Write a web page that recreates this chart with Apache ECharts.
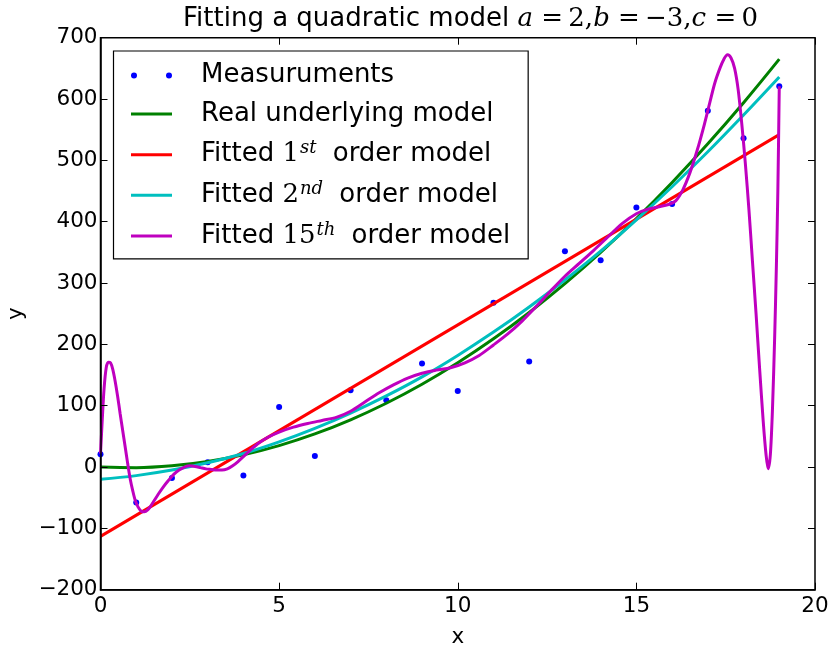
<!DOCTYPE html>
<html>
<head>
<meta charset="utf-8">
<script src="https://cdn.jsdelivr.net/npm/echarts@6/dist/echarts.min.js"></script>
<style>
  html, body { margin: 0; padding: 0; background: #fff; }
  #chart { width: 832px; height: 647px; }
</style>
</head>
<body>
<div id="chart"></div>
<script>
// Measured samples at x = 0 .. 19
const sampleX = [0, 1, 2, 3, 4, 5, 6, 7, 8, 9, 10, 11, 12, 13, 14, 15, 16, 17, 18, 19];
const measurements = [21, -58, -18, 8, -14, 98, 18, 125, 109, 169, 124, 268, 172, 352, 337, 423, 429, 581, 536, 621];

// Underlying quadratic model, sampled at the same x positions
const realModel = [0, -1, 2, 9, 20, 35, 54, 77, 104, 135, 170, 209, 252, 299, 350, 405, 464, 527, 594, 665];

// First order fit: end points of the straight line
const fit1X = [0, 19];
const fit1Y = [-113, 542];

// Second order fit
const fit2Y = [-20, -14, -5, 7, 22, 41, 63, 88, 116, 147, 182, 220, 261, 305, 352, 403, 457, 514, 574, 636];

// 15th order fit (dense samples where the curve oscillates near the ends)
const fit15X = [0.00, 0.05, 0.10, 0.16, 0.22, 0.28, 0.34, 0.41, 0.48, 0.55, 0.62, 0.69, 0.76, 0.83, 0.90, 0.97,
  1.05, 1.14, 1.23, 1.32, 1.40, 1.50, 1.62, 1.75, 1.90, 2.05, 2.20, 2.35, 2.50, 2.65, 2.80, 2.95,
  3.10, 3.25, 3.40, 3.55, 3.70, 3.85, 4.00, 4.20, 4.45, 4.70, 5.00, 5.40, 5.80, 6.20, 6.60, 7.00, 7.40,
  7.80, 8.20, 8.60, 9.00, 9.40, 9.80, 10.20, 10.60, 11.00, 11.40, 11.80, 12.20, 12.60, 13.00, 13.40,
  13.80, 14.20, 14.60, 15.00, 15.30, 15.60, 15.90, 16.10, 16.30, 16.50, 16.70, 16.90, 17.05, 17.20,
  17.35, 17.45, 17.55, 17.65, 17.75, 17.85, 17.95, 18.05, 18.15, 18.25, 18.35, 18.45, 18.55, 18.63, 18.69,
  18.75, 18.81, 18.87, 18.92, 18.96, 19.00];
const fit15Y = [22, 78, 128, 162, 171, 170, 160, 140, 115, 87, 60, 33, 6, -19, -38, -54,
  -65, -72, -73, -70, -64, -55, -44, -33, -22, -12, -5, 0, 2, 1, -1, -3,
  -4, -5, -5, -3, 2, 9, 17, 28, 40, 49, 57, 65, 71, 76, 81, 91, 106,
  121, 134, 145, 153, 158, 162, 170, 182, 199, 217, 238, 262, 287, 311, 332,
  353, 375, 397, 413, 420, 424, 428, 434, 452, 480, 516, 558, 593, 627,
  652, 665, 672, 667, 650, 615, 560, 495, 420, 335, 250, 160, 75, 20, -3,
  20, 95, 210, 330, 450, 621];

// Axis ticks
const xTicks = [0, 5, 10, 15, 20];
const yTicks = [-200, -100, 0, 100, 200, 300, 400, 500, 600, 700];

const names = {
  meas: 'Measuruments',
  real: 'Real underlying model',
  f1: 'Fitted 1st order model',
  f2: 'Fitted 2nd order model',
  f15: 'Fitted 15th order model'
};

const pairs = (xs, ys) => xs.map((x, i) => [x, ys[i]]);

const SANS = 'DejaVu Sans';
const SERIF = 'DejaVu Serif';

const legendLabels = {};
legendLabels[names.meas] = '{t|Measuruments}';
legendLabels[names.real] = '{t|Real underlying model}';
legendLabels[names.f1] = '{t|Fitted }{m|1}{s|st}{t| order model}';
legendLabels[names.f2] = '{t|Fitted }{m|2}{s|nd}{t| order model}';
legendLabels[names.f15] = '{t|Fitted }{m|15}{s|th}{t| order model}';

// legend marks: two dots for the samples, a short stroke for the curves
const dotsIcon = 'path://M0,3a3,3 0 1,0 6,0a3,3 0 1,0 -6,0ZM35,3a3,3 0 1,0 6,0a3,3 0 1,0 -6,0Z';
const strokeIcon = 'path://M0,0M41,14M0,5.5H41V8.5H0Z';

const minus = v => String(v).replace('-', '\u2212');

const tickStyle = { show: true, inside: true, length: 7, lineStyle: { color: '#000', width: 1 } };

const chart = echarts.init(document.getElementById('chart'), null, { renderer: 'canvas' });

const richTitle = {
  t: { fontFamily: SANS, fontSize: 26, fontWeight: 'normal', color: '#000', lineHeight: 32 },
  i: { fontFamily: SERIF, fontStyle: 'italic', fontWeight: 'normal', fontSize: 26, color: '#000', lineHeight: 32 },
  m: { fontFamily: SERIF, fontWeight: 'normal', fontSize: 26, color: '#000', lineHeight: 32 }
};

chart.setOption({
  animation: false,
  backgroundColor: '#fff',
  title: {
    left: 183,
    top: 3,
    padding: 0,
    text: '{t|Fitting a quadratic model }{i|a}{m| =\u20092,}{i|b}{m| =\u2009\u22123,}{i|c}{m| =\u20090}',
    textStyle: { fontWeight: 'normal', rich: richTitle }
  },
  grid: {
    left: 100.5,
    right: 17,
    top: 37.7,
    bottom: 57.3,
    outerBoundsMode: 'none',
    containLabel: false,
    show: true,
    borderColor: '#000',
    borderWidth: 1.5,
    backgroundColor: 'transparent'
  },
  legend: {
    orient: 'vertical',
    left: 113.5,
    top: 51,
    padding: [11.5, 18, 10, 17.5],
    itemGap: 12.6,
    itemWidth: 41,
    itemHeight: 14,
    backgroundColor: '#fff',
    borderColor: '#000',
    borderWidth: 1.2,
    borderRadius: 0,
    selectedMode: false,
    data: [
      { name: names.meas, icon: dotsIcon },
      { name: names.real, icon: strokeIcon },
      { name: names.f1, icon: strokeIcon },
      { name: names.f2, icon: strokeIcon },
      { name: names.f15, icon: strokeIcon }
    ],
    formatter: name => legendLabels[name],
    textStyle: {
      padding: [0, 0, 0, 24],
      rich: {
        t: { fontFamily: SANS, fontSize: 26, color: '#000', lineHeight: 30 },
        m: { fontFamily: SERIF, fontSize: 26, color: '#000', lineHeight: 30 },
        s: { fontFamily: SERIF, fontStyle: 'italic', fontSize: 18, color: '#000', lineHeight: 20,
             verticalAlign: 'top', padding: [0, 8, 0, 1] }
      }
    }
  },
  xAxis: [
    {
      type: 'value', min: 0, max: 20, interval: 5,
      name: 'x', nameLocation: 'middle', nameGap: 37,
      nameTextStyle: { fontFamily: SANS, fontSize: 21.5, color: '#000' },
      axisLine: { show: true, onZero: false, lineStyle: { color: '#000', width: 1.5 } },
      axisTick: tickStyle,
      axisLabel: { fontFamily: SANS, fontSize: 21.5, color: '#000', margin: 6, formatter: v => minus(v) },
      splitLine: { show: false },
      z: 10
    },
    {
      type: 'value', min: 0, max: 20, interval: 5, position: 'top',
      axisLine: { show: false, onZero: false }, axisTick: tickStyle, axisLabel: { show: false },
      splitLine: { show: false }, z: 10
    }
  ],
  yAxis: [
    {
      type: 'value', min: -200, max: 700, interval: 100,
      name: 'y', nameLocation: 'middle', nameGap: 72, nameRotate: 90,
      nameTextStyle: { fontFamily: SANS, fontSize: 21.5, color: '#000' },
      axisLine: { show: true, onZero: false, lineStyle: { color: '#000', width: 1.5 } },
      axisTick: tickStyle,
      axisLabel: { fontFamily: SANS, fontSize: 21.5, color: '#000', margin: 3, formatter: v => minus(v) },
      splitLine: { show: false },
      z: 10
    },
    {
      type: 'value', min: -200, max: 700, interval: 100, position: 'right',
      axisLine: { show: false, onZero: false }, axisTick: tickStyle, axisLabel: { show: false },
      splitLine: { show: false }, z: 10
    }
  ],
  series: [
    {
      name: names.meas,
      type: 'scatter',
      data: pairs(sampleX, measurements),
      symbol: 'circle',
      symbolSize: 6,
      itemStyle: { color: '#0000ff', opacity: 1 },
      z: 1
    },
    {
      name: names.real,
      type: 'line',
      data: pairs(sampleX, realModel),
      smooth: 0.4,
      symbol: 'none',
      lineStyle: { color: '#008000', width: 3 },
      itemStyle: { color: '#008000' },
      z: 2
    },
    {
      name: names.f1,
      type: 'line',
      data: pairs(fit1X, fit1Y),
      symbol: 'none',
      lineStyle: { color: '#ff0000', width: 3 },
      itemStyle: { color: '#ff0000' },
      z: 3
    },
    {
      name: names.f2,
      type: 'line',
      data: pairs(sampleX, fit2Y),
      smooth: 0.4,
      symbol: 'none',
      lineStyle: { color: '#00bfbf', width: 3 },
      itemStyle: { color: '#00bfbf' },
      z: 4
    },
    {
      name: names.f15,
      type: 'line',
      data: pairs(fit15X, fit15Y),
      smooth: 0.3,
      symbol: 'none',
      lineStyle: { color: '#bf00bf', width: 3 },
      itemStyle: { color: '#bf00bf' },
      z: 5
    }
  ]
});
</script>
</body>
</html>
